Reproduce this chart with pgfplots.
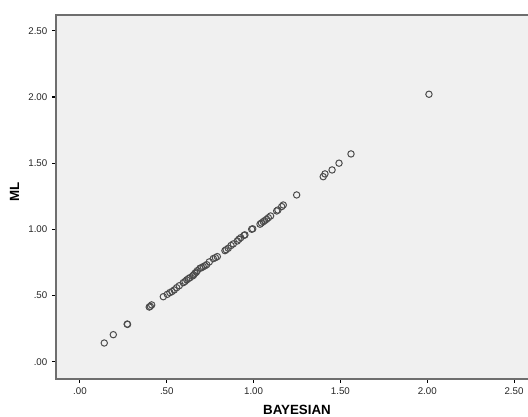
\documentclass[border=0pt]{standalone}
\usepackage{pgfplots}
\pgfplotsset{compat=1.18}
\usepackage{fontspec}
\setmainfont{Liberation Sans}
\definecolor{panel}{HTML}{F0F0F0}
\definecolor{frame}{HTML}{6E6E6E}

\begin{document}
\begin{tikzpicture}
% page window (1px = 0.75pt)
\clip (-42pt,-28.5pt) rectangle (354pt,284.25pt);
\begin{axis}[
  scale only axis,
  width=361.5pt, height=273pt,
  xmin=-0.138, xmax=2.638,
  ymin=-0.131, ymax=2.62,
  axis background/.style={fill=panel},
  axis line style={frame, line width=1.1pt},
  xtick={0,0.5,1,1.5,2,2.5},
  ytick={0,0.5,1,1.5,2,2.5},
  xticklabels={.00,.50,1.00,1.50,2.00,2.50},
  yticklabels={.00,.50,1.00,1.50,2.00,2.50},
  xtick pos=bottom, ytick pos=left,
  tick align=outside,
  major tick length=3pt,
  every tick/.style={black, line width=0.8pt},
  tick label style={font=\fontsize{7.3}{8}\selectfont, text=black!85},
  xlabel={\textbf{BAYESIAN}},
  ylabel={\textbf{ML}},
  label style={font=\fontsize{8.4}{10}\selectfont},
  every axis x label/.style={at={(axis description cs:0.5,-0.086)}, anchor=center},
  every axis y label/.style={at={(axis description cs:-0.0858,0.514)}, anchor=center, rotate=90},
]
\addplot[only marks, mark=o, mark size=2.4pt, mark options={draw=black!70, line width=0.75pt}]
coordinates {
(0.140,0.141) (0.192,0.204) (0.272,0.284) (0.274,0.282)
(0.399,0.413) (0.405,0.418) (0.413,0.429)
(0.480,0.491) (0.503,0.509) (0.518,0.522) (0.530,0.530) (0.543,0.542)
(0.557,0.559) (0.572,0.574) (0.595,0.597) (0.605,0.606) (0.615,0.618)
(0.625,0.628) (0.634,0.635) (0.649,0.648) (0.655,0.656) (0.662,0.668)
(0.670,0.676) (0.676,0.688) (0.691,0.706) (0.700,0.710) (0.710,0.718)
(0.720,0.725) (0.730,0.733) (0.745,0.754) (0.768,0.779) (0.780,0.786)
(0.791,0.794) (0.835,0.839) (0.842,0.846) (0.854,0.857) (0.870,0.878)
(0.883,0.890) (0.906,0.912) (0.915,0.925) (0.926,0.937) (0.945,0.955)
(0.950,0.958) (0.989,1.001) (0.995,1.004) (1.037,1.039) (1.045,1.048)
(1.056,1.058) (1.064,1.066) (1.075,1.076) (1.085,1.088) (1.098,1.101)
(1.133,1.139) (1.140,1.146) (1.162,1.172) (1.171,1.184)
(1.248,1.260) (1.401,1.398) (1.411,1.419) (1.452,1.449) (1.492,1.500)
(1.561,1.570) (2.010,2.021)
};
\end{axis}
\end{tikzpicture}
\end{document}
